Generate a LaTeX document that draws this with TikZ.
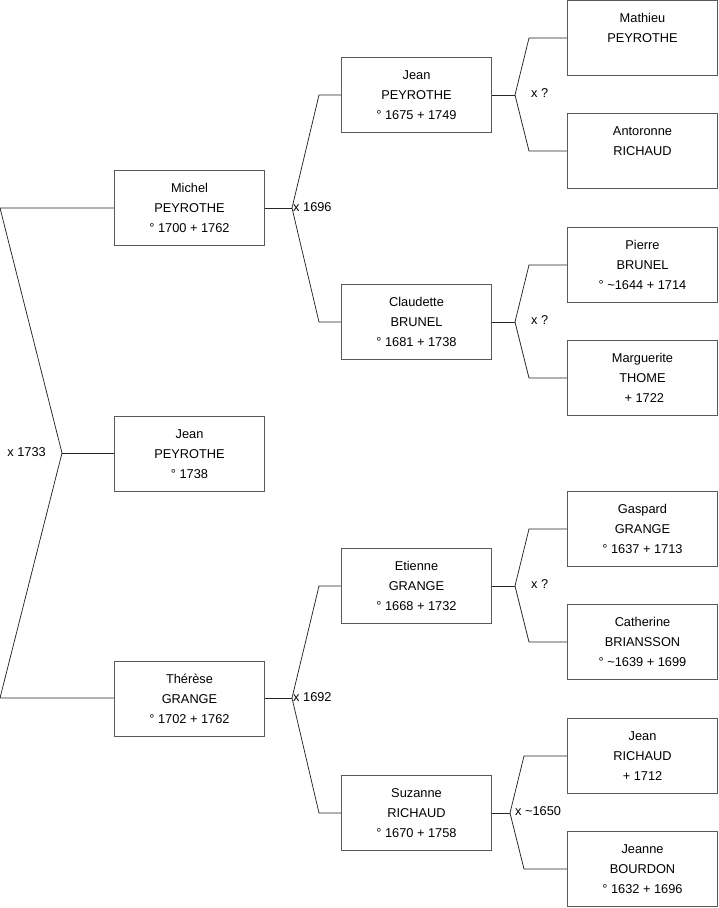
\documentclass[tikz,border=0pt]{standalone}
\usepackage{fontspec}
\setmainfont{Liberation Sans}
\begin{document}
\begin{tikzpicture}[x=1pt,y=-1pt,
  person/.style={draw=black!65, line width=0.8pt, minimum width=150.5pt, minimum height=75.5pt,
    inner sep=0pt, align=center, font=\fontsize{12.8}{20}\selectfont},
  link/.style={draw=black!85, line width=0.75pt},
  lab/.style={font=\fontsize{12.8}{15}\selectfont, inner sep=1pt}]
\useasboundingbox (0,0) rectangle (719,908);
\newcommand{\gbox}[4]{\node[person] (#1) at (#2,#3) {#4};}
% column 1
\gbox{michel}{189.5}{208}{Michel\\PEYROTHE\\° 1700 + 1762}
\gbox{jean}{189.5}{454}{Jean\\PEYROTHE\\° 1738}
\gbox{therese}{189.5}{699}{Thérèse\\GRANGE\\° 1702 + 1762}
% column 2
\gbox{jeanp}{416.5}{95}{Jean\\PEYROTHE\\° 1675 + 1749}
\gbox{claudette}{416.5}{322}{Claudette\\BRUNEL\\° 1681 + 1738}
\gbox{etienne}{416.5}{586}{Etienne\\GRANGE\\° 1668 + 1732}
\gbox{suzanne}{416.5}{813}{Suzanne\\RICHAUD\\° 1670 + 1758}
% column 3
\gbox{mathieu}{642.5}{38}{Mathieu\\PEYROTHE\\\phantom{1}}
\gbox{antoronne}{642.5}{151}{Antoronne\\RICHAUD\\\phantom{1}}
\gbox{pierre}{642.5}{265}{Pierre\\BRUNEL\\° \textasciitilde1644 + 1714}
\gbox{marguerite}{642.5}{378}{Marguerite\\THOME\\\ + 1722}
\gbox{gaspard}{642.5}{529}{Gaspard\\GRANGE\\° 1637 + 1713}
\gbox{catherine}{642.5}{642}{Catherine\\BRIANSSON\\° \textasciitilde1639 + 1699}
\gbox{jeanr}{642.5}{756}{Jean\\RICHAUD\\+ 1712}
\gbox{jeanne}{642.5}{869}{Jeanne\\BOURDON\\° 1632 + 1696}
% joints
\coordinate (a) at (62,453);
\coordinate (at) at (0,208);
\coordinate (ab) at (0,698);
\coordinate (b) at (292,208);
\coordinate (bt) at (319,95);
\coordinate (bb) at (319,322);
\coordinate (c) at (292,698);
\coordinate (ct) at (319,586);
\coordinate (cb) at (319,813);
\coordinate (d) at (515,95);
\coordinate (dt) at (529,38);
\coordinate (db) at (529,151);
\coordinate (e) at (515,322);
\coordinate (et) at (529,265);
\coordinate (eb) at (529,378);
\coordinate (f) at (515,586);
\coordinate (ft) at (529,529);
\coordinate (fb) at (529,642);
\coordinate (g) at (510,813);
\coordinate (gt) at (524,756);
\coordinate (gb) at (524,869);
% connectors
\draw[link] (jean.west |- a) -- (a);
\draw[link] (michel.west) -- (at) -- (a) -- (ab) -- (therese.west |- ab);
\draw[link] (michel.east) -- (b);
\draw[link] (jeanp.west) -- (bt) -- (b) -- (bb) -- (claudette.west);
\draw[link] (therese.east |- c) -- (c);
\draw[link] (etienne.west) -- (ct) -- (c) -- (cb) -- (suzanne.west);
\draw[link] (jeanp.east) -- (d);
\draw[link] (mathieu.west) -- (dt) -- (d) -- (db) -- (antoronne.west);
\draw[link] (claudette.east) -- (e);
\draw[link] (pierre.west) -- (et) -- (e) -- (eb) -- (marguerite.west);
\draw[link] (etienne.east) -- (f);
\draw[link] (gaspard.west) -- (ft) -- (f) -- (fb) -- (catherine.west);
\draw[link] (suzanne.east) -- (g);
\draw[link] (jeanr.west) -- (gt) -- (g) -- (gb) -- (jeanne.west);
% labels
\node[lab, anchor=east] (la) at (47,452) {x 1733};
\node[lab, anchor=west] (lb) at (292,207) {x 1696};
\node[lab, anchor=west] (lc) at (292,697) {x 1692};
\node[lab, anchor=west] (ld) at (530,93) {x ?};
\node[lab, anchor=west] (le) at (530,320) {x ?};
\node[lab, anchor=west] (lf) at (530,584) {x ?};
\node[lab, anchor=west] (lg) at (514,811) {x \textasciitilde1650};
\end{tikzpicture}
\end{document}
